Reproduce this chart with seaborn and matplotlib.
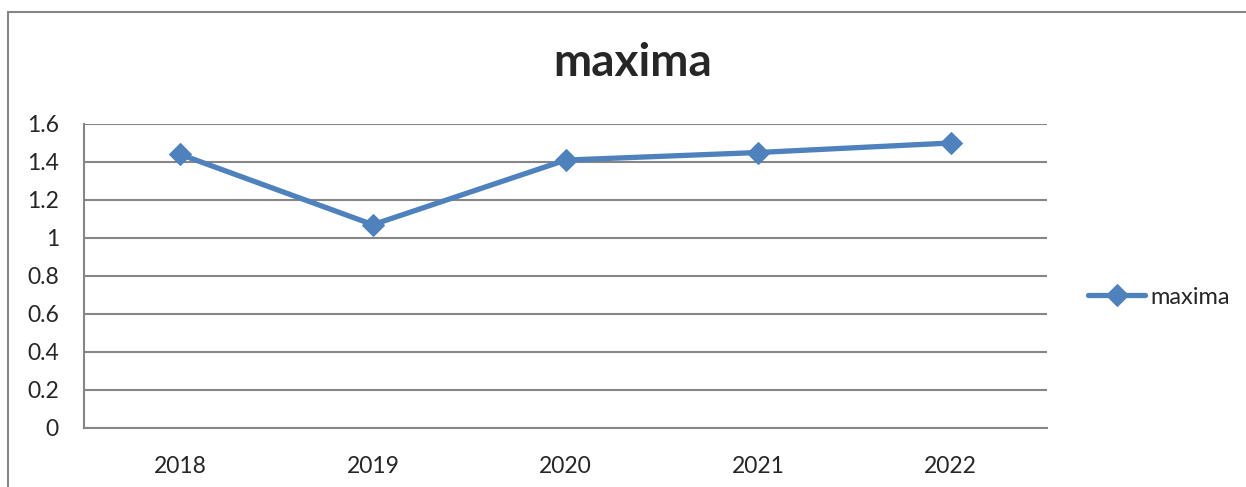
import matplotlib
matplotlib.use("Agg")
import matplotlib.pyplot as plt
import seaborn as sns
import pandas as pd
from matplotlib.patches import Rectangle
from matplotlib.ticker import FixedLocator

years = ["2018", "2019", "2020", "2021", "2022"]
maxima = [1.44, 1.07, 1.41, 1.45, 1.50]
y_ticks = [0, 0.2, 0.4, 0.6, 0.8, 1, 1.2, 1.4, 1.6]
y_labels = ["0", "0.2", "0.4", "0.6", "0.8", "1", "1.2", "1.4", "1.6"]

df = pd.DataFrame({"year": years, "maxima": maxima})

sns.set_style("white")
plt.rcParams["font.family"] = ["Lato", "DejaVu Sans"]

grid_col = "#868686"
line_col = "#4F81BD"

fig = plt.figure(figsize=(12.46, 4.87), dpi=100)
ax = fig.add_axes([84 / 1246, 1 - 428 / 487, (1047 - 84) / 1246, (428 - 124) / 487])

sns.lineplot(data=df, x="year", y="maxima", ax=ax, color=line_col, linewidth=3.8,
             marker="D", markersize=11, markeredgecolor=line_col, label="maxima",
             legend=False, sort=False)

ax.set_xlim(-0.5, len(years) - 0.5)
ax.set_ylim(0, 1.6)
ax.set_yticks(y_ticks)
ax.set_yticklabels(y_labels)
ax.xaxis.set_minor_locator(FixedLocator([i - 0.5 for i in range(len(years) + 1)]))
ax.tick_params(axis="x", which="major", length=0, pad=20, labelsize=16.5)
ax.tick_params(axis="x", which="minor", length=6, width=1.5, color=grid_col, direction="out")
ax.tick_params(axis="y", length=6, width=1.5, color=grid_col, pad=12, labelsize=16.5, direction="out")
ax.set_xlabel("")
ax.set_ylabel("")
ax.yaxis.grid(True, color=grid_col, linewidth=1.5)
ax.set_axisbelow(True)
for s in ["top", "right"]:
    ax.spines[s].set_visible(False)
for s in ["left", "bottom"]:
    ax.spines[s].set_color(grid_col)
    ax.spines[s].set_linewidth(1.5)

fig.text(633 / 1246, 1 - 63 / 487, "maxima", ha="center", va="center",
         fontsize=33, fontweight="bold")

handles, labels = ax.get_legend_handles_labels()
fig.legend(handles, labels, loc="center left", bbox_to_anchor=(1067 / 1246, 1 - 297 / 487),
           frameon=False, fontsize=17, handlelength=2.4, handletextpad=0.25)

fig.add_artist(Rectangle((8 / 1246, -0.1), 1.2, 1.1 - 12 / 487, transform=fig.transFigure,
                         fill=False, edgecolor=grid_col, linewidth=1.5))

fig.savefig("out.png", dpi=100)
